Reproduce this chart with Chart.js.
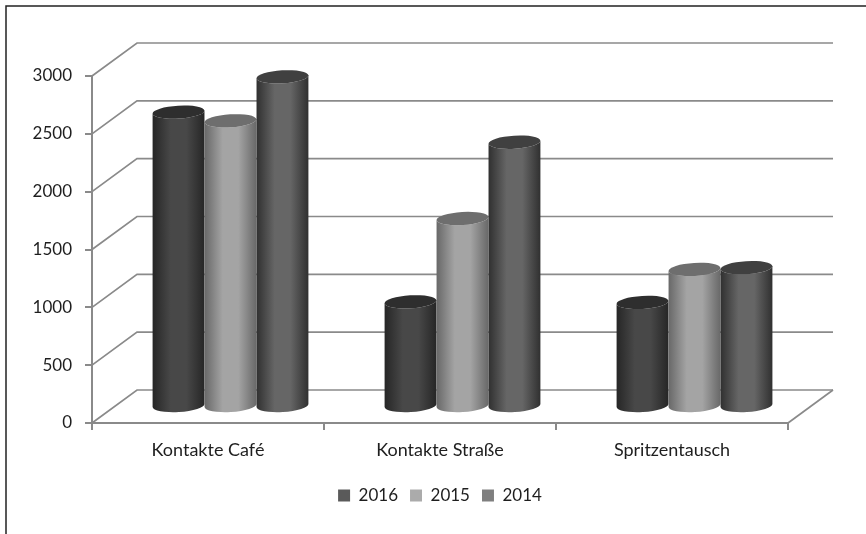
<!DOCTYPE html>
<html>
<head>
<meta charset="utf-8">
<script src="https://cdn.jsdelivr.net/npm/chart.js@4"></script>
<style>
  html, body { margin: 0; background: #fff; }
  canvas { display: block; filter: blur(0.4px); }
</style>
</head>
<body>
<canvas id="contactChart" width="866" height="534"></canvas>
<script>
const categories = ['Kontakte Café', 'Kontakte Straße', 'Spritzentausch'];
const values2016 = [2545, 905, 900];
const values2015 = [2470, 1625, 1185];
const values2014 = [2850, 2285, 1200];

const lineGray = '#8a8a8a';
const depthX = 45;
const depthY = -33;

// side shading of each cylinder: edge, middle, edge, plus the lid colour
const shades = [
  { edge: '#262626', mid: '#484848', lid: '#2e2e2e' },
  { edge: '#686868', mid: '#a4a4a4', lid: '#6e6e6e' },
  { edge: '#303030', mid: '#666666', lid: '#404040' },
];

const chart3d = {
  id: 'chart3d',
  beforeDatasetsDraw(chart) {
    const { ctx, chartArea: area, scales } = chart;
    ctx.save();

    // frame of the picture, top and left only
    ctx.strokeStyle = '#222';
    ctx.lineWidth = 1.5;
    ctx.beginPath();
    ctx.moveTo(6, 534);
    ctx.lineTo(6, 6);
    ctx.lineTo(866, 6);
    ctx.stroke();

    // side wall and back wall grid
    ctx.strokeStyle = lineGray;
    ctx.lineWidth = 1.7;
    scales.y.ticks.forEach(t => {
      const y = scales.y.getPixelForValue(t.value);
      ctx.beginPath();
      ctx.moveTo(area.left, y);
      ctx.lineTo(area.left + depthX, y + depthY);
      ctx.lineTo(area.right + depthX, y + depthY);
      ctx.stroke();
    });
    ctx.beginPath();
    ctx.moveTo(area.right, area.bottom);
    ctx.lineTo(area.right + depthX, area.bottom + depthY);
    ctx.stroke();

    // cylinders stand half way into the floor
    chart.data.datasets.forEach((ds, i) => {
      const s = shades[i];
      chart.getDatasetMeta(i).data.forEach(bar => {
        const cx = bar.x + depthX / 2;
        const top = bar.y + depthY / 2;
        const base = bar.base + depthY / 2;
        const rx = bar.width / 2;
        const ry = 6.5;
        const tilt = -0.06;
        const g = ctx.createLinearGradient(cx - rx, 0, cx + rx, 0);
        g.addColorStop(0, s.edge);
        g.addColorStop(0.35, s.mid);
        g.addColorStop(0.65, s.mid);
        g.addColorStop(1, s.edge);
        ctx.fillStyle = g;
        ctx.beginPath();
        ctx.ellipse(cx, top, rx, ry, tilt, Math.PI, 0, true);
        ctx.ellipse(cx, base, rx, ry, tilt, 0, Math.PI);
        ctx.closePath();
        ctx.fill();
        ctx.fillStyle = s.lid;
        ctx.beginPath();
        ctx.ellipse(cx, top, rx, ry, tilt, 0, Math.PI * 2);
        ctx.fill();
      });
    });

    ctx.restore();
    return false;
  },
};

new Chart(document.getElementById('contactChart'), {
  type: 'bar',
  data: {
    labels: categories,
    datasets: [
      { label: '2016', data: values2016, backgroundColor: '#5a5a5a' },
      { label: '2015', data: values2015, backgroundColor: '#ababab' },
      { label: '2014', data: values2014, backgroundColor: '#7f7f7f' },
    ],
  },
  options: {
    responsive: false,
    animation: false,
    categoryPercentage: 0.672,
    barPercentage: 1,
    layout: { padding: { top: 76, right: 78, bottom: 20, left: 0 } },
    scales: {
      x: {
        afterFit(scale) { scale.height = 52; },
        border: { color: lineGray, width: 2 },
        grid: { drawOnChartArea: false, color: lineGray, tickLength: 7, lineWidth: 2 },
        ticks: { color: '#1e1e1e', font: { family: 'Lato', size: 18 }, padding: 9 },
      },
      y: {
        min: 0,
        max: 3000,
        afterFit(scale) { scale.width = 92; },
        border: { color: lineGray, width: 2 },
        grid: { drawOnChartArea: false, color: lineGray, tickLength: 7, lineWidth: 2 },
        ticks: {
          stepSize: 500,
          color: '#1e1e1e',
          font: { family: 'Lato', size: 17 },
          padding: 13,
          callback: value => String(value),
        },
      },
    },
    plugins: {
      tooltip: { enabled: false },
      legend: {
        position: 'bottom',
        fullSize: false,
        labels: {
          boxWidth: 12,
          boxHeight: 12,
          padding: 12,
          color: '#1e1e1e',
          font: { family: 'Lato', size: 17 },
        },
      },
    },
  },
  plugins: [chart3d],
});
</script>
</body>
</html>
